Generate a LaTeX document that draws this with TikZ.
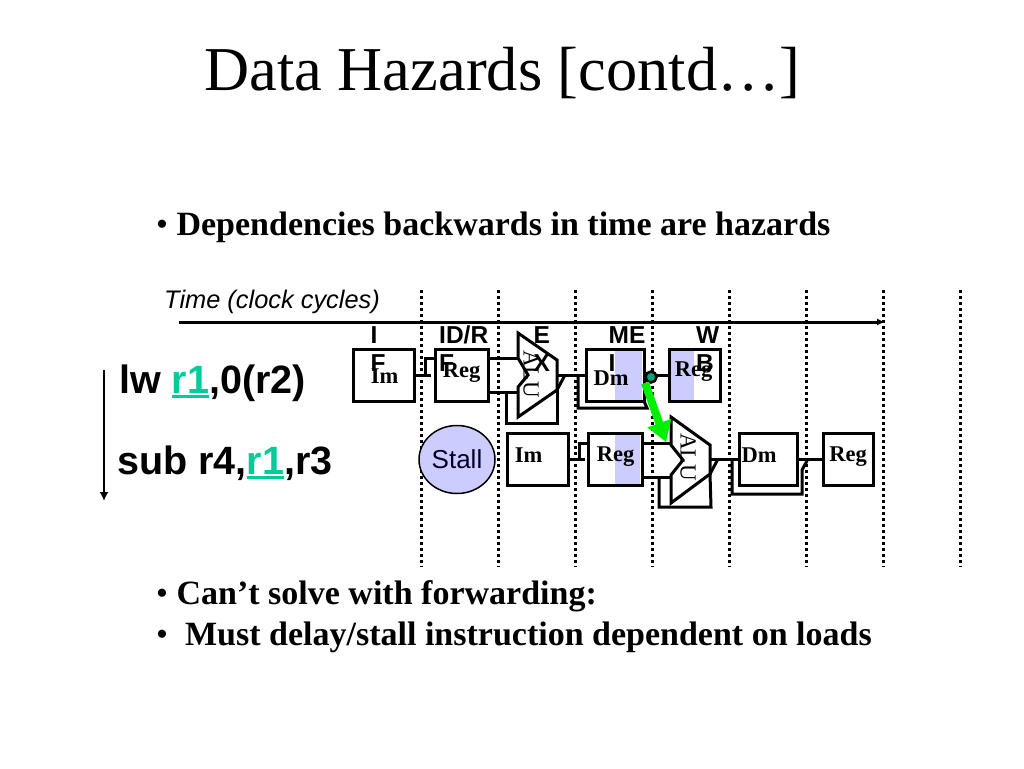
\documentclass[tikz,border=0pt]{standalone}
\usepackage{fontspec}
\setmainfont{Liberation Serif}
\setsansfont{Liberation Sans}
\usetikzlibrary{arrows.meta,shapes.geometric}
\definecolor{regteal}{RGB}{0,204,153}
\definecolor{stallblue}{RGB}{204,204,255}
\definecolor{hazgreen}{RGB}{0,238,0}
\newcommand{\regname}[1]{\textcolor{regteal}{\setbox0\hbox{#1}\rlap{\rule[-5pt]{\wd0}{3pt}}\box0}}
\tikzset{
    stagebox/.style={draw, line width=3pt, inner sep=0pt, outer sep=0pt, minimum height=52pt},
    unitlabel/.style={font=\fontsize{22.5}{24}\selectfont\bfseries, inner sep=0pt},
    alulabel/.style={font=\fontsize{23}{25}\selectfont, rotate=-90, inner sep=0pt},
    stagelabel/.style={font=\fontsize{24.5}{31}\selectfont\sffamily\bfseries, align=left, anchor=north west, inner sep=0pt},
    instr/.style={font=\fontsize{39.5}{44}\selectfont\sffamily\bfseries, anchor=base west, inner sep=0pt},
    bullet/.style={font=\fontsize{34}{38}\selectfont, anchor=base west, inner sep=0pt},
    wire/.style={line width=3pt},
}
\begin{document}
\begin{tikzpicture}[x=1pt,y=-1pt]
    \useasboundingbox (0,0) rectangle (1024,768);

    %% TEXT
    \node (title) [font=\fontsize{62.4}{70}\selectfont, anchor=base, inner sep=0pt] at (502.5,90) {Data Hazards [contd…]};
    \node (bulletdep) [bullet] at (156,235) {• \textbf{Dependencies backwards in time are hazards}};
    \node (bulletfwd) [bullet] at (156,604) {• \textbf{Can’t solve with forwarding:}};
    \node (bulletstall) [bullet] at (156,645) {•\ \ \textbf{Must delay/stall instruction dependent on loads}};
    \node (timelabel) [font=\fontsize{25.4}{28}\selectfont\sffamily\itshape, anchor=base west, inner sep=0pt] at (164,308) {Time (clock cycles)};
    \node (lwinstr) [instr] at (119,393) {lw \regname{r1},0(r2)};
    \node (subinstr) [instr] at (117,474) {sub r4,\regname{r1},r3};

    %% TIME GRID
    \foreach \x in {421.5,498.5,575.5,652.5,729,806,883,960} {
        \draw[line width=3pt, dash pattern=on 3pt off 3pt] (\x,290) -- (\x,567);
    }
    \coordinate (timestart) at (179,322);
    \coordinate (timeend) at (885,322);
    \draw[line width=3pt, -{Latex[length=8pt,width=7pt]}] (timestart) -- (timeend);
    \coordinate (orderstart) at (104,370);
    \coordinate (orderend) at (104,501);
    \draw[line width=2.5pt, -{Latex[length=9pt,width=9pt]}] (orderstart) -- (orderend);

    %% ROW (lw)
    % Shading
    \fill[stallblue] (615,350) rectangle (642,400);
    \fill[stallblue] (670,350) rectangle (694,400);
    % Boxes
    \node (imA) [stagebox, minimum width=61pt] at (383.5,375) {};
    \node (regA) [stagebox, minimum width=53pt] at (461.5,375) {};
    \node (dmA) [stagebox, minimum width=58pt] at (615,375) {};
    \node (wbA) [stagebox, minimum width=51pt] at (694.5,375) {};
    % ALU
    \coordinate (aluAtop) at (518,333);
    \coordinate (aluAne) at (557,360);
    \coordinate (aluAse) at (557,390);
    \coordinate (aluAbot) at (518,417);
    \coordinate (aluAlow) at (518,387);
    \coordinate (aluAnotch) at (528,375);
    \coordinate (aluAup) at (518,358);
    \draw[line width=3pt, line join=miter] (aluAtop) -- (aluAne) -- (aluAse) -- (aluAbot) -- (aluAlow) -- (aluAnotch) -- (aluAup) -- cycle;
    \coordinate (inAup) at (518,358);
    \coordinate (inAlow) at (518,392);
    \coordinate (outA) at (557,375);
    % Wires
    \coordinate (ifidA) at (425,375);
    \coordinate (ifidAend) at (431,375);
    \coordinate (fwdA) at (506,392);
    \coordinate (fwdAend) at (557,423);
    \coordinate (exA) at (578,375);
    \coordinate (exAend) at (647,408);
    \draw[wire] (imA.east) -- (ifidAend);
    \draw[wire] (ifidA) |- (regA.west |- inAup);
    \draw[wire] (regA.east |- inAup) -- (inAup);
    \draw[wire] (regA.east |- inAlow) -- (inAlow);
    \draw[wire] (fwdA) |- (fwdAend) -- (aluAse);
    \draw[wire] (outA) -- (dmA.west);
    \draw[wire] (aluAse) -- (565,375);
    \draw[wire] (exA) |- (exAend) -- (dmA.east |- wbA.south);
    \draw[wire] (dmA.east) -- (wbA.west);
    % Labels
    \node (imAtext) [unitlabel] at (384.5,376) {Im};
    \node (regAtext) [unitlabel] at (461.5,372.5) {Reg};
    \node (dmAtext) [unitlabel] at (611,378) {Dm};
    \node (wbAtext) [unitlabel] at (693.5,372) {Reg};
    \node (aluAtext) [alulabel] at (531,374) {ALU};
    % Stage names
    \node (ifname) [stagelabel] at (370.5,326) {I\\[-3pt]F};
    \node (idname) [stagelabel] at (439,326) {ID/R\\[-3pt]F};
    \node (exname) [stagelabel] at (533.5,326) {E\\[-3pt]X};
    \node (memname) [stagelabel] at (608.5,326) {ME\\[-3pt]I};
    \node (wbname) [stagelabel] at (696,326) {W\\[-3pt]B};

    %% ROW (sub)
    \node (stall) [draw, ellipse, line width=1.5pt, fill=stallblue, minimum width=76pt, minimum height=68pt, inner sep=0pt, text=black!85!blue, font=\fontsize{26}{28}\selectfont\sffamily] at (457,459.5) {Stall};
    % Shading
    \fill[stallblue] (615,434) rectangle (640,484);
    % Boxes
    \node (imB) [stagebox, minimum width=61pt] at (537.5,459) {};
    \node (regB) [stagebox, minimum width=54pt] at (615,459) {};
    \node (dmB) [stagebox, minimum width=58pt] at (768,459) {};
    \node (wbB) [stagebox, minimum width=50pt] at (848,459) {};
    % ALU
    \coordinate (aluBtop) at (671,417);
    \coordinate (aluBne) at (710,445);
    \coordinate (aluBse) at (710,474);
    \coordinate (aluBbot) at (671,503);
    \coordinate (aluBlow) at (671,475);
    \coordinate (aluBnotch) at (683,460);
    \coordinate (aluBup) at (671,445);
    \draw[line width=3pt, line join=miter] (aluBtop) -- (aluBne) -- (aluBse) -- (aluBbot) -- (aluBlow) -- (aluBnotch) -- (aluBup) -- cycle;
    \coordinate (inBup) at (671,443);
    \coordinate (inBlow) at (671,477);
    \coordinate (outB) at (710,459);
    % Wires
    \coordinate (ifidB) at (579,459);
    \coordinate (ifidBend) at (585,459);
    \coordinate (fwdB) at (659,477);
    \coordinate (fwdBend) at (711,507);
    \coordinate (exB) at (732,459);
    \coordinate (exBend) at (802,494);
    \draw[wire] (imB.east) -- (ifidBend);
    \draw[wire] (ifidB) |- (regB.west |- inBup);
    \draw[wire] (regB.east |- inBup) -- (inBup);
    \draw[wire] (regB.east |- inBlow) -- (inBlow);
    \draw[wire] (fwdB) |- (fwdBend) -- (aluBse);
    \draw[wire] (outB) -- (dmB.west);
    \draw[wire] (aluBse) -- (718,459);
    \draw[wire] (exB) |- (exBend) -- (802,470) -- (808,459);
    \draw[wire] (dmB.east) -- (wbB.west);
    % Labels
    \node (imBtext) [unitlabel] at (528.5,455) {Im};
    \node (regBtext) [unitlabel] at (615.5,457) {Reg};
    \node (dmBtext) [unitlabel] at (759,455) {Dm};
    \node (wbBtext) [unitlabel] at (848,457) {Reg};
    \node (aluBtext) [alulabel] at (688,457) {ALU};

    %% HAZARD
    \node (source) [circle, draw, line width=2.5pt, fill=regteal!80!black, minimum size=11pt, inner sep=0pt] at (651,377) {};
    \coordinate (sourcefoot) at (645,383);
    \coordinate (hazardend) at (666,442);
    \draw[hazgreen, line width=8pt, -{Triangle[length=20pt,width=24pt]}] (sourcefoot) -- (hazardend);
\end{tikzpicture}
\end{document}
